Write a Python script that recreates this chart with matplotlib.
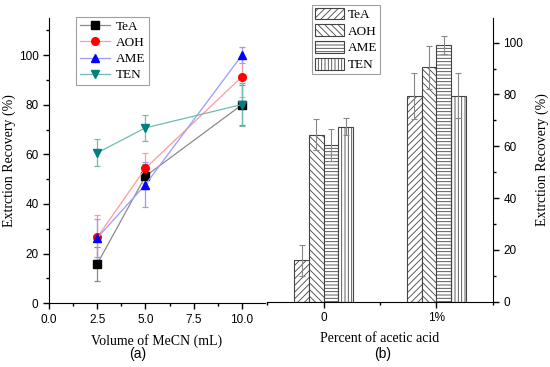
import numpy as np
import matplotlib
matplotlib.use("Agg")
import matplotlib.pyplot as plt
from matplotlib.ticker import MultipleLocator
from matplotlib.lines import Line2D

# ---- data ----
volumes = [2.5, 5.0, 10.0]
series = ["TeA", "AOH", "AME", "TEN"]
tea_a = [15.8, 51.2, 80.0]
aoh_a = [26.5, 54.4, 91.3]
ame_a = [26.3, 47.8, 100.0]
ten_a = [60.6, 70.7, 80.1]
tea_a_err = [6.8, 5.0, 8.0]
aoh_a_err = [9.0, 6.0, 8.0]
ame_a_err = [7.5, 9.0, 3.3]
ten_a_err = [5.4, 5.2, 8.6]

acid_cats = ["0", "1%"]
tea_b = [16.0, 79.5]
aoh_b = [64.5, 90.5]
ame_b = [60.5, 99.2]
ten_b = [67.6, 79.5]
tea_b_err = [6.0, 8.8]
aoh_b_err = [6.0, 8.3]
ame_b_err = [6.2, 3.5]
ten_b_err = [3.3, 8.6]

serif = "Liberation Serif"
sans = "Liberation Sans"

plt.rcParams["hatch.color"] = "#666666"
plt.rcParams["hatch.linewidth"] = 0.6

fig = plt.figure(figsize=(5.5, 3.67), dpi=100)

# ---------- panel (a) ----------
axa = fig.add_axes([0.089, 0.174, 0.393, 0.777])
ys = [tea_a, aoh_a, ame_a, ten_a]
es = [tea_a_err, aoh_a_err, ame_a_err, ten_a_err]
line_cols = ["#8a8a8a", "#ff9a9a", "#9a9aff", "#6fbcb2"]
mk_cols = ["black", "red", "blue", "#007f7f"]
markers = ["s", "o", "^", "v"]
handles = []
for name, y, e, lc, mc, m in zip(series, ys, es, line_cols, mk_cols, markers):
    axa.errorbar(volumes, y, yerr=e, color=lc, lw=0.9, ecolor=lc, elinewidth=0.9,
                 capsize=2.5, capthick=0.9, marker=m, markersize=5.5,
                 markerfacecolor=mc, markeredgecolor=mc)
    handles.append(Line2D([], [], color=lc, lw=0.9, marker=m, markersize=5.5,
                          markerfacecolor=mc, markeredgecolor=mc, label=name))
axa.set_xlim(0, 11.2)
axa.set_ylim(0, 115)
axa.xaxis.set_minor_locator(MultipleLocator(1.25))
axa.yaxis.set_major_locator(MultipleLocator(20))
axa.yaxis.set_minor_locator(MultipleLocator(10))
axa.set_xticks([0, 2.5, 5, 7.5, 10])
axa.set_xticklabels(["0.0", "2.5", "5.0", "7.5", "10.0"])
for s in ["top", "right"]:
    axa.spines[s].set_visible(False)
axa.tick_params(which="major", direction="out", length=4, width=1, labelsize=8.5)
axa.tick_params(which="minor", direction="out", length=2.5, width=1)
for lab in axa.get_xticklabels() + axa.get_yticklabels():
    lab.set_fontfamily(sans)
axa.set_ylabel("Extrction Recovery (%)", fontfamily=serif, fontsize=10, labelpad=2)
axa.set_xlabel("Volume of MeCN (mL)", fontfamily=serif, fontsize=10, labelpad=6)
leg = axa.legend(handles=handles, loc="upper left", bbox_to_anchor=(0.125, 1.005), borderaxespad=0,
                 prop={"family": serif, "size": 9.5},
                 frameon=True, fancybox=False, edgecolor="#888888", handlelength=2.3,
                 borderpad=0.3, labelspacing=0.3, handletextpad=0.4)
leg.get_frame().set_linewidth(0.8)
fig.text(0.25, 1 - 354 / 367, "(a)", fontfamily=sans, fontsize=10, ha="center", va="center")

# ---------- panel (b) ----------
axb = fig.add_axes([0.486, 0.178, 0.410, 0.773])
x = np.arange(len(acid_cats))
w = 0.13
vals = [tea_b, aoh_b, ame_b, ten_b]
errs = [tea_b_err, aoh_b_err, ame_b_err, ten_b_err]
hatches = ["/////", "\\\\\\\\\\", "-----", "|||||"]
for i, (name, v, e, h) in enumerate(zip(series, vals, errs, hatches)):
    axb.bar(x + (i - 1.5) * w, v, width=w, facecolor="white", edgecolor="#444444",
            linewidth=0.8, hatch=h, label=name,
            yerr=e, error_kw=dict(ecolor="#888888", elinewidth=0.8, capsize=2.5, capthick=0.8))
axb.set_xlim(-0.5, 1.5)
axb.set_ylim(0, 109.5)
axb.set_xticks(x)
axb.set_xticklabels(acid_cats)
axb.xaxis.set_minor_locator(MultipleLocator(0.5))
axb.yaxis.set_major_locator(MultipleLocator(20))
axb.yaxis.set_minor_locator(MultipleLocator(10))
axb.yaxis.tick_right()
axb.yaxis.set_label_position("right")
for s in ["top", "left"]:
    axb.spines[s].set_visible(False)
axb.tick_params(which="major", direction="out", length=4, width=1, labelsize=8.5)
axb.tick_params(which="minor", direction="out", length=2.5, width=1)
for lab in axb.get_xticklabels() + axb.get_yticklabels():
    lab.set_fontfamily(sans)
axb.set_ylabel("Extrction Recovery (%)", fontfamily=serif, fontsize=10, rotation=90, labelpad=9)
axb.set_xlabel("Percent of acetic acid", fontfamily=serif, fontsize=10, labelpad=6)
legb = axb.legend(loc="upper left", bbox_to_anchor=(0.2, 1.046), borderaxespad=0,
                  prop={"family": serif, "size": 9.5},
                  frameon=True, fancybox=False, edgecolor="#888888", handlelength=2.2,
                  handleheight=1.0, borderpad=0.2, labelspacing=0.25, handletextpad=0.3)
legb.get_frame().set_linewidth(0.8)
fig.text(0.695, 1 - 354 / 367, "(b)", fontfamily=sans, fontsize=10, ha="center", va="center")

fig.savefig("out.png", dpi=100)
